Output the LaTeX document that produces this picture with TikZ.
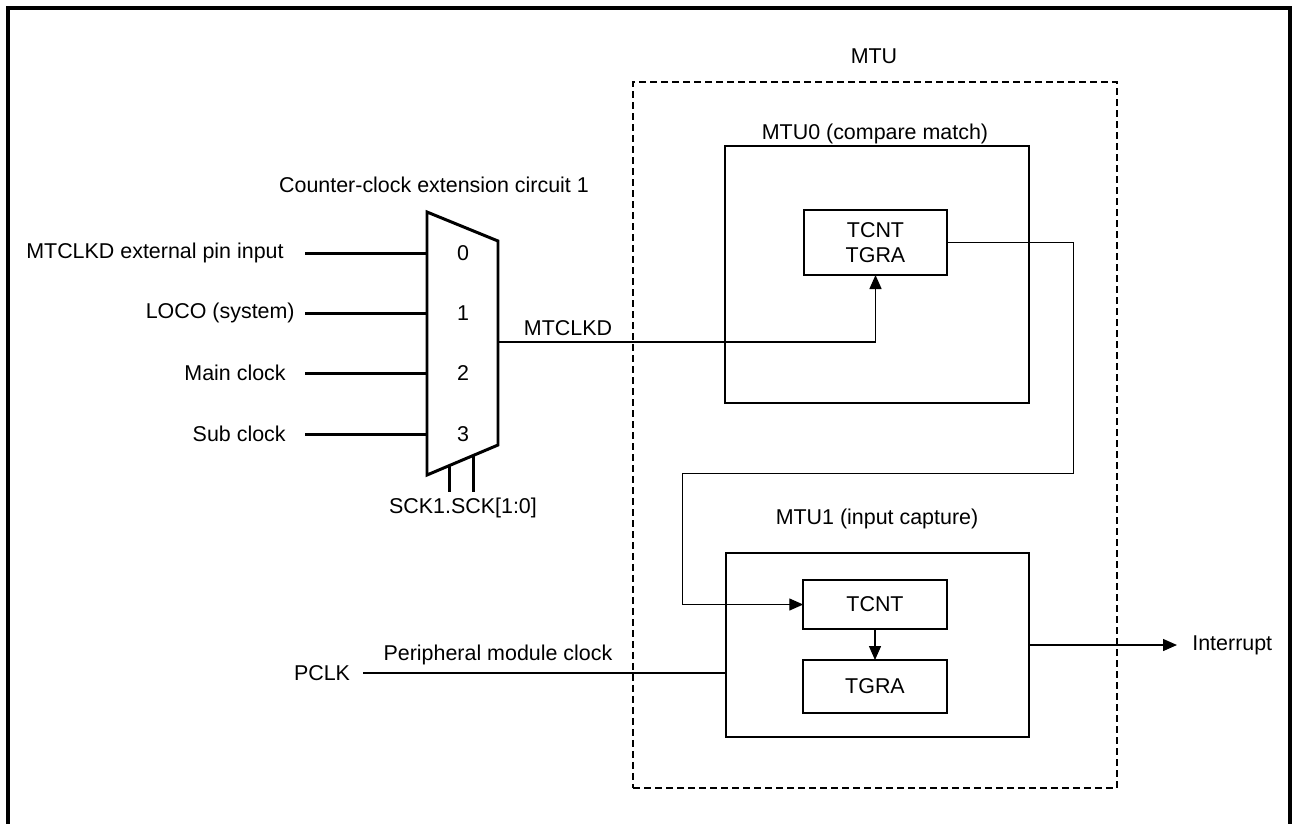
\documentclass[tikz,border=0pt]{standalone}
\usepackage{fontspec}
\setmainfont{Liberation Sans}
\usetikzlibrary{arrows.meta,positioning,calc}

\begin{document}
\begin{tikzpicture}[
    x=0.02cm, y=-0.02cm,
    font=\fontsize{12.2}{14}\selectfont, >={Triangle[length=0.28cm,width=0.24cm]},
    box/.style={rectangle, draw, line width=1.1pt, outer sep=0pt, inner sep=0pt},
    reg/.style={rectangle, draw, line width=0.9pt, outer sep=0pt, minimum width=2.87cm, align=center},
    wire/.style={line width=0.8pt},
    bus/.style={line width=1.7pt},
    txt/.style={inner sep=0pt}
]
    \useasboundingbox (0,0) rectangle (1292,823);
    % outer frame, open at the bottom
    \draw[line width=2pt] (8,830) -- (8,8) -- (1290,8) -- (1290,830);

    % clock selector
    \coordinate (mtl) at (427,212);
    \coordinate (mtr) at (498,241);
    \coordinate (mbr) at (498,445);
    \coordinate (mbl) at (427,475);
    \draw[bus, line join=miter] (mtl) -- (mtr) -- (mbr) -- (mbl) -- cycle;
    \node[txt] (ctitle) at (434,185) {Counter-clock extension circuit 1};
    \foreach \i/\y in {0/253, 1/313, 2/373, 3/434} {
        \node[txt] (sel\i) at (463,\y) {\i};
        \coordinate (port\i) at (427,\y);
        \coordinate (wire\i) at (305,\y);
        \draw[bus] (wire\i) -- (port\i);
    }
    \node[txt, anchor=east] (in0) at (284,253) {MTCLKD external pin input};
    \node[txt, anchor=east] (in1) at (295,313) {LOCO (system)};
    \node[txt, anchor=east] (in2) at (286,373) {Main clock};
    \node[txt, anchor=east] (in3) at (286,434) {Sub clock};
    \node[txt] (sck) at (463,508) {SCK1.SCK[1:0]};
    \coordinate (sck0) at ($(mbl)!0.32!(mbr)$);
    \coordinate (sck1) at ($(mbl)!0.65!(mbr)$);
    \draw[bus] (sck0) -- ($(sck0 |- sck.north)+(0,-6)$);
    \draw[bus] (sck1) -- ($(sck1 |- sck.north)+(0,-6)$);
    \coordinate (mout) at (498,342);

    % MTU
    \node[box, dashed, dash pattern=on 0.14cm off 0.08cm, line width=1.4pt,
          minimum width=9.68cm, minimum height=14.12cm] (mtu) at (875,435) {};
    \node[txt] (mtulbl) at (874,56) {MTU};

    \node[box, minimum width=6.08cm, minimum height=5.14cm] (mtu0) at (877,274.5) {};
    \node[txt] (mtu0lbl) at (875,134) {MTU0 (compare match)};
    \node[reg, minimum height=1.3cm] (reg0) at (875.5,242.5) {TCNT\\TGRA};

    \node[box, minimum width=6.06cm, minimum height=3.68cm] (mtu1) at (877.5,645) {};
    \node[txt] (mtu1lbl) at (877,519) {MTU1 (input capture)};
    \node[reg, minimum height=0.98cm] (tcnt1) at (875,604.5) {TCNT};
    \node[reg, minimum height=1.06cm] (tgra1) at (875,686.5) {TGRA};

    % connections
    \draw[wire, ->] (mout) -| (reg0.south);
    \node[txt] (mtclkd) at (568,328) {MTCLKD};
    \draw[wire, ->] (reg0.east) -- ++(126,0) -- ++(0,231) -| ($(tcnt1.west)+(-121,0)$) -- (tcnt1.west);
    \draw[wire, ->] (tcnt1) -- (tgra1);

    \node[txt] (pclk) at (322,673) {PCLK};
    \coordinate (pclkin) at (363,673);
    \draw[wire] (pclkin) -- (pclkin -| mtu1.west);
    \node[txt] (pmc) at (498,655) {Peripheral module clock};

    \node[anchor=west, inner sep=0.3cm] (intr) at (1177,645) {Interrupt};
    \draw[wire, ->] (mtu1.east) -- (intr.west);
\end{tikzpicture}
\end{document}
